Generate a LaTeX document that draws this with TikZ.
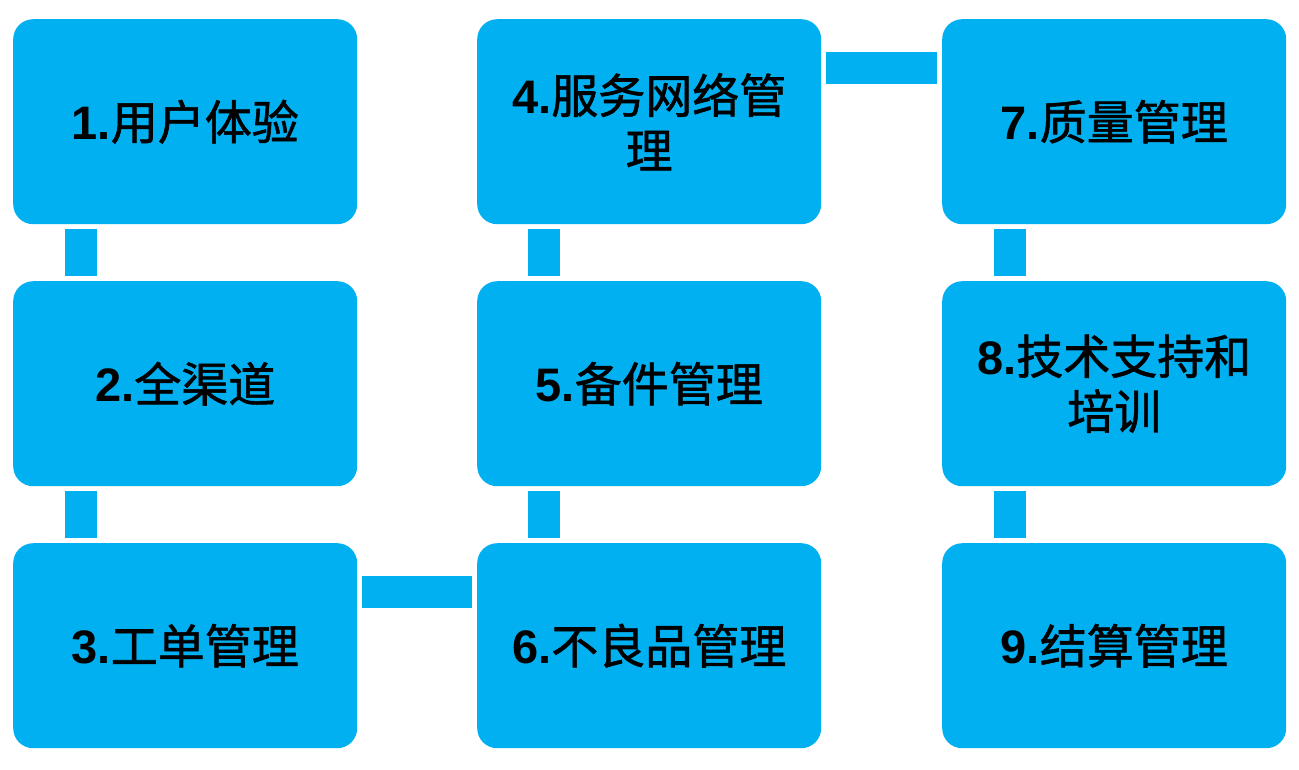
\documentclass[tikz,border=0pt]{standalone}
\usepackage{fontspec}
\setmainfont{Liberation Sans}
\newfontfamily\cjk{Noto Sans CJK SC}[FakeBold=1.2]
\usetikzlibrary{calc}
\definecolor{boxblue}{HTML}{00B0F0}
\tikzset{
  box/.style={fill=boxblue, draw=none, rounded corners=20pt, minimum width=344pt, minimum height=205pt,
    anchor=north west, align=center, font=\fontsize{47}{55}\selectfont\bfseries, text=black, inner sep=0pt},
  conn/.style={draw=boxblue, line width=32pt, shorten <=5pt, shorten >=5pt}
}
\newcommand{\lbl}[2]{#1{\cjk\mdseries #2}}
\begin{document}
\begin{tikzpicture}[x=1pt,y=-1pt]
\useasboundingbox (0,0) rectangle (1299,769);
\fill[white] (0,0) rectangle (1299,769);
\node[box] (n1) at (13,19) {\lbl{1.}{用户体验}};
\node[box] (n2) at (13,281) {\lbl{2.}{全渠道}};
\node[box] (n3) at (13,543) {\lbl{3.}{工单管理}};
\node[box] (n4) at (477,19) {\lbl{4.}{服务网络管}\\{\cjk\mdseries 理}};
\node[box] (n5) at (477,281) {\lbl{5.}{备件管理}};
\node[box] (n6) at (477,543) {\lbl{6.}{不良品管理}};
\node[box] (n7) at (942,19) {\lbl{7.}{质量管理}};
\node[box] (n8) at (942,281) {\lbl{8.}{技术支持和}\\{\cjk\mdseries 培训}};
\node[box] (n9) at (942,543) {\lbl{9.}{结算管理}};
% vertical connectors
\draw[conn] ($(n1.south west)+(68,0)$) -- ($(n2.north west)+(68,0)$);
\draw[conn] ($(n2.south west)+(68,0)$) -- ($(n3.north west)+(68,0)$);
\draw[conn] ($(n6.north west)+(67,0)$) -- ($(n5.south west)+(67,0)$);
\draw[conn] ($(n5.north west)+(67,0)$) -- ($(n4.south west)+(67,0)$);
\draw[conn] ($(n7.south west)+(68,0)$) -- ($(n8.north west)+(68,0)$);
\draw[conn] ($(n8.south west)+(68,0)$) -- ($(n9.north west)+(68,0)$);
% horizontal connectors
\draw[conn] ($(n3.north east)+(0,49)$) -- ($(n6.north west)+(0,49)$);
\draw[conn] ($(n4.north east)+(0,49)$) -- ($(n7.north west)+(0,49)$);
\end{tikzpicture}
\end{document}
